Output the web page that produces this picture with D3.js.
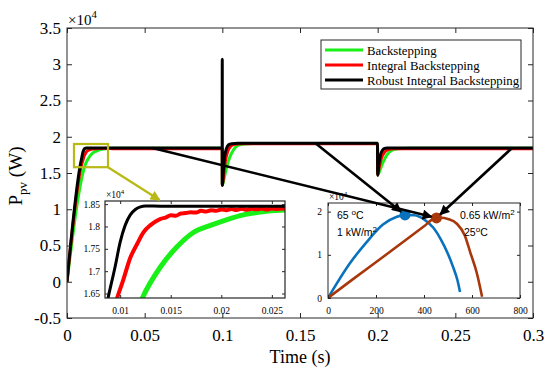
<!DOCTYPE html>
<html>
<head>
<meta charset="utf-8">
<script src="https://cdn.jsdelivr.net/npm/d3@7"></script>
<style>
  body { margin: 0; background: #fff; }
  svg { display: block; }
</style>
</head>
<body>
<div id="chart"></div>
<script>
// ---- data (time in s, power in W) ----
const seriesNames = ['Backstepping', 'Integral Backstepping', 'Robust Integral Backstepping'];
const seriesColors = ['#18f018', '#ff0000', '#000000'];

const backsteppingData = [
  [0, 0], [0.0122, 16400], [0.014, 17100], [0.0156, 17540], [0.0172, 17860], [0.019, 18030],
  [0.0205, 18150], [0.0222, 18260], [0.0235, 18310], [0.0249, 18350], [0.0263, 18370],
  [0.03, 18410], [0.04, 18430], [0.0999, 18430], [0.1, 13300], [0.1015, 14600], [0.103, 16000],
  [0.105, 17300], [0.1075, 18300], [0.11, 18800], [0.114, 19000], [0.12, 19070], [0.1999, 19070],
  [0.2, 14700], [0.2015, 15400], [0.2035, 16500], [0.206, 17500], [0.209, 18100], [0.213, 18330],
  [0.22, 18420], [0.3, 18420]
];

const integralData = [
  [0, 0], [0.0097, 16400], [0.0103, 16800], [0.011, 17300], [0.0117, 17620], [0.0123, 17870],
  [0.013, 18030], [0.0135, 18110], [0.014, 18170], [0.0145, 18200], [0.015, 18250], [0.0155, 18240],
  [0.016, 18290], [0.0165, 18300], [0.017, 18320], [0.0175, 18310], [0.018, 18350], [0.0185, 18335],
  [0.019, 18365], [0.0195, 18350], [0.02, 18380], [0.0205, 18365], [0.021, 18390], [0.0215, 18370],
  [0.022, 18395], [0.0225, 18375], [0.023, 18395], [0.0235, 18385], [0.024, 18400], [0.0245, 18380],
  [0.025, 18400], [0.0255, 18390], [0.026, 18400], [0.03, 18330], [0.0999, 18330],
  [0.1, 13300], [0.101, 15000], [0.102, 16700], [0.1035, 18000], [0.1055, 18700], [0.108, 18950],
  [0.112, 19050], [0.1999, 19050], [0.2, 14700], [0.201, 15800], [0.2025, 17100], [0.2045, 17900],
  [0.207, 18250], [0.21, 18330], [0.3, 18330]
];

const robustData = [
  [0, 0], [0.0088, 16400], [0.0095, 17100], [0.01, 17650], [0.0105, 18030], [0.011, 18260],
  [0.0115, 18380], [0.012, 18440], [0.0125, 18460], [0.014, 18455], [0.03, 18450], [0.0999, 18450],
  [0.09995, 30700], [0.1, 13300], [0.1008, 15800], [0.1015, 17300], [0.1025, 18300], [0.104, 18900],
  [0.106, 19050], [0.11, 19100], [0.1999, 19100], [0.2, 14700], [0.2008, 16200], [0.2018, 17500],
  [0.203, 18100], [0.2045, 18380], [0.206, 18450], [0.3, 18450]
];

const mainXTicks = [0, 0.05, 0.1, 0.15, 0.2, 0.25, 0.3];
const mainYTicks = [-5000, 0, 5000, 10000, 15000, 20000, 25000, 30000, 35000];
const zoomXTicks = [0.01, 0.015, 0.02, 0.025];
const zoomYTicks = [16500, 17000, 17500, 18000, 18500];

// P-V curves (voltage in V, power in W)
const hotCurve = [
  [0, 0], [92, 8100], [162, 13000], [229, 17000], [287, 18800], [321, 19250], [360, 19150],
  [400, 18200], [440, 16200], [470, 13600], [500, 10200], [521, 7200], [540, 4000], [550, 1400]
];
const coolCurve = [
  [0, 0], [100, 4200], [229, 9500], [342, 14200], [400, 16600], [446, 18500], [470, 18600],
  [500, 18300], [537, 17200], [570, 14500], [592, 10700], [620, 5800], [642, 300]
];
const hotMpp = [321, 19250];
const coolMpp = [452, 18550];
const pvXTicks = [0, 200, 400, 600, 800];
const pvYTicks = [0, 10000, 20000];

// arrows: start on the main curve (t, P) -> which MPP
const arrowStarts = [[0.055, 18450, 'cool'], [0.16, 19100, 'hot'], [0.2865, 18450, 'cool']];
const zoomBox = [0.0045, 0.0264, 15800, 19000];

// ---- layout ----
const width = 550, height = 370;
const serif = '"Liberation Serif", "Times New Roman", serif';
const sans = '"Liberation Sans", Arial, sans-serif';
const axisColor = '#262626';

const svg = d3.select('#chart').append('svg')
  .attr('width', width).attr('height', height)
  .style('font-family', serif);

const x = d3.scaleLinear([0, 0.3], [67, 533]);
const y = d3.scaleLinear([-5000, 35000], [318, 28]);

const x1 = d3.scaleLinear([0.0085, 0.0263], [105, 285]);
const y1 = d3.scaleLinear([16400, 18570], [298, 201]);

const x2 = d3.scaleLinear([0, 800], [328, 520]);
const y2 = d3.scaleLinear([0, 22000], [298, 203]);

const fmt = d => String(+(d / 10000).toFixed(3));

const defs = svg.append('defs');
function addClip(id, xs, ys) {
  defs.append('clipPath').attr('id', id).append('rect')
    .attr('x', xs.range()[0]).attr('y', ys.range()[1])
    .attr('width', xs.range()[1] - xs.range()[0])
    .attr('height', ys.range()[0] - ys.range()[1]);
}
addClip('clip-main', x, y);
addClip('clip-zoom', x1, y1);
addClip('clip-pv', x2, y2);

['black', '#b9b915'].forEach((c, i) => {
  defs.append('marker')
    .attr('id', 'arrow' + i)
    .attr('markerUnits', 'userSpaceOnUse')
    .attr('viewBox', '0 0 10 10')
    .attr('refX', 9).attr('refY', 5)
    .attr('markerWidth', 11).attr('markerHeight', 10)
    .attr('orient', 'auto')
    .append('path').attr('d', 'M0,0L10,5L0,10z').attr('fill', c);
});

// draw a framed axes box with inward ticks
function drawFrame(g, xs, ys, xt, yt, opts) {
  const [xa, xb] = xs.range();
  const [yb, ya] = ys.range();
  g.append('rect').attr('x', xa).attr('y', ya).attr('width', xb - xa).attr('height', yb - ya)
    .attr('fill', 'none').attr('stroke', axisColor).attr('stroke-width', opts.frame);

  const styleAxis = sel => {
    sel.select('.domain').remove();
    sel.selectAll('line').attr('stroke', axisColor);
    sel.selectAll('text').attr('fill', '#000').style('font-family', opts.font)
      .style('font-size', opts.size + 'px');
  };

  g.append('g').attr('transform', `translate(0,${yb})`)
    .call(d3.axisBottom(xs).tickValues(xt).tickSize(-opts.tick).tickPadding(opts.padX).tickFormat(opts.fx))
    .call(styleAxis);
  g.append('g').attr('transform', `translate(0,${ya})`)
    .call(d3.axisTop(xs).tickValues(xt).tickSize(-opts.tick).tickFormat(''))
    .call(styleAxis);
  g.append('g').attr('transform', `translate(${xa},0)`)
    .call(d3.axisLeft(ys).tickValues(yt).tickSize(-opts.tick).tickPadding(opts.padY).tickFormat(opts.fy))
    .call(styleAxis);
  g.append('g').attr('transform', `translate(${xb},0)`)
    .call(d3.axisRight(ys).tickValues(yt).tickSize(-opts.tick).tickFormat(''))
    .call(styleAxis);
}

function exponentLabel(g, px, py, size) {
  const t = g.append('text').attr('x', px).attr('y', py)
    .style('font-size', size + 'px').attr('fill', '#000');
  t.append('tspan').text('\u00d710');
  t.append('tspan').attr('dy', -size * 0.45).style('font-size', (size * 0.72) + 'px').text('4');
}

const allSeries = [backsteppingData, integralData, robustData];

// ---- main plot ----
const mainLine = d3.line().x(d => x(d[0])).y(d => y(d[1])).curve(d3.curveMonotoneX);
const mainG = svg.append('g').attr('clip-path', 'url(#clip-main)');
allSeries.forEach((data, i) => {
  mainG.append('path').datum(data)
    .attr('fill', 'none')
    .attr('stroke', seriesColors[i])
    .attr('stroke-width', 3)
    .attr('stroke-linejoin', 'round')
    .attr('d', mainLine);
});

// zoom rectangle
svg.append('rect')
  .attr('x', x(zoomBox[0])).attr('y', y(zoomBox[3]))
  .attr('width', x(zoomBox[1]) - x(zoomBox[0]))
  .attr('height', y(zoomBox[2]) - y(zoomBox[3]))
  .attr('fill', 'none').attr('stroke', '#b9b915').attr('stroke-width', 2.2);

drawFrame(svg.append('g'), x, y, mainXTicks, mainYTicks, {
  frame: 1, tick: 5, padX: 11, padY: 6, font: serif, size: 17,
  fx: d => String(d), fy: fmt
});
exponentLabel(svg, 68, 25, 15);

svg.append('text')
  .attr('x', 300).attr('y', 363)
  .attr('text-anchor', 'middle')
  .style('font-size', '18px')
  .text('Time (s)');

const yLab = svg.append('text')
  .attr('transform', 'translate(22,176) rotate(-90)')
  .attr('text-anchor', 'middle')
  .style('font-size', '19px');
yLab.append('tspan').text('P');
yLab.append('tspan').attr('dy', 5).style('font-size', '13px').text('pv');
yLab.append('tspan').attr('dy', -5).text(' (W)');

// legend
const legend = svg.append('g').attr('transform', 'translate(321,40)');
legend.append('rect').attr('width', 200).attr('height', 49)
  .attr('fill', '#fff').attr('stroke', axisColor).attr('stroke-width', 1);
seriesNames.forEach((name, i) => {
  const ly = 10 + i * 15;
  legend.append('line').attr('x1', 4).attr('x2', 42).attr('y1', ly).attr('y2', ly)
    .attr('stroke', seriesColors[i]).attr('stroke-width', 3);
  legend.append('text').attr('x', 46).attr('y', ly + 4.5)
    .style('font-size', '12.8px').text(name);
});

// ---- zoom inset ----
const zoomG = svg.append('g');
zoomG.append('rect').attr('x', 105).attr('y', 201).attr('width', 180).attr('height', 97).attr('fill', '#fff');
const zoomLine = d3.line().x(d => x1(d[0])).y(d => y1(d[1])).curve(d3.curveMonotoneX);
const zoomWidths = [5, 4, 3];
const zoomLines = zoomG.append('g').attr('clip-path', 'url(#clip-zoom)');
allSeries.forEach((data, i) => {
  zoomLines.append('path').datum(data)
    .attr('fill', 'none')
    .attr('stroke', seriesColors[i])
    .attr('stroke-width', zoomWidths[i])
    .attr('d', zoomLine);
});
drawFrame(zoomG, x1, y1, zoomXTicks, zoomYTicks, {
  frame: 1.2, tick: 3, padX: 9, padY: 5, font: serif, size: 9.5,
  fx: d => String(d), fy: fmt
});
exponentLabel(zoomG, 106, 198, 9.5);

// ---- P-V inset ----
const pvG = svg.append('g');
pvG.append('rect').attr('x', 328).attr('y', 203).attr('width', 192).attr('height', 95).attr('fill', '#fff');
const pvLine = d3.line().x(d => x2(d[0])).y(d => y2(d[1])).curve(d3.curveMonotoneX);
const pvColors = { hot: '#0a72bd', cool: '#a8380c' };
const pvLines = pvG.append('g').attr('clip-path', 'url(#clip-pv)');
[[hotCurve, 'hot'], [coolCurve, 'cool']].forEach(([data, key]) => {
  pvLines.append('path').datum(data)
    .attr('fill', 'none').attr('stroke', pvColors[key]).attr('stroke-width', 2.6)
    .attr('d', pvLine);
});
drawFrame(pvG, x2, y2, pvXTicks, pvYTicks, {
  frame: 1, tick: 3, padX: 9, padY: 6, font: serif, size: 9.5,
  fx: d => String(d), fy: d => String(d / 10000)
});
exponentLabel(pvG, 329, 200, 9.5);

const mpp = { hot: hotMpp, cool: coolMpp };
Object.keys(mpp).forEach(key => {
  pvG.append('circle')
    .attr('cx', x2(mpp[key][0])).attr('cy', y2(mpp[key][1])).attr('r', 5.5)
    .attr('fill', pvColors[key]);
});

const pvText = (px, py, main, sup, rest) => {
  const t = pvG.append('text').attr('x', px).attr('y', py)
    .style('font-family', sans).style('font-size', '10.5px');
  t.append('tspan').text(main);
  if (sup) t.append('tspan').attr('dy', -4).style('font-size', '8px').text(sup);
  if (rest) t.append('tspan').attr('dy', 4).text(rest);
};
pvText(337, 219, '65 ', 'o', 'C');
pvText(337, 236, '1 kW/m', '2');
pvText(460, 219, '0.65 kW/m', '2');
pvText(464, 236, '25', 'o', 'C');

// ---- arrows ----
arrowStarts.forEach(([t, p, key]) => {
  const sx = x(t), sy = y(p);
  const cx = x2(mpp[key][0]), cy = y2(mpp[key][1]);
  const len = Math.hypot(cx - sx, cy - sy);
  const k = (len - 5) / len;
  svg.append('line')
    .attr('x1', sx).attr('y1', sy)
    .attr('x2', sx + (cx - sx) * k).attr('y2', sy + (cy - sy) * k)
    .attr('stroke', 'black').attr('stroke-width', 2.6)
    .attr('marker-end', 'url(#arrow0)');
});

svg.append('line')
  .attr('x1', x(zoomBox[1])).attr('y1', y(zoomBox[2]))
  .attr('x2', x1(0.0139)).attr('y2', 200)
  .attr('stroke', '#b9b915').attr('stroke-width', 2.2)
  .attr('marker-end', 'url(#arrow1)');
</script>
</body>
</html>
